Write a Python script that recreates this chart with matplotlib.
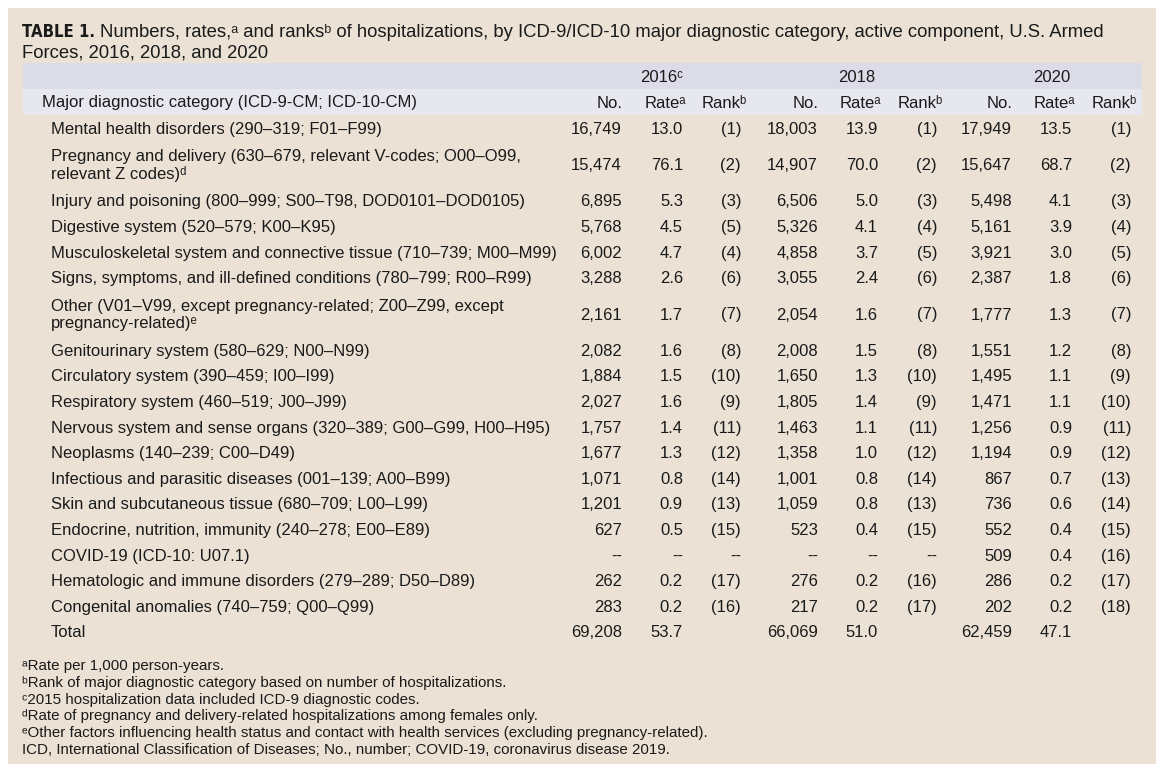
import matplotlib.pyplot as plt
import matplotlib.patches as mpatches
from matplotlib import font_manager
from matplotlib.font_manager import FontProperties

plt.rcParams['font.family'] = ['Liberation Sans', 'DejaVu Sans']

# table data
categories = [
    'Mental health disorders (290–319; F01–F99)',
    'Pregnancy and delivery (630–679, relevant V-codes; O00–O99,\nrelevant Z codes)ᵈ',
    'Injury and poisoning (800–999; S00–T98, DOD0101–DOD0105)',
    'Digestive system (520–579; K00–K95)',
    'Musculoskeletal system and connective tissue (710–739; M00–M99)',
    'Signs, symptoms, and ill-defined conditions (780–799; R00–R99)',
    'Other (V01–V99, except pregnancy-related; Z00–Z99, except\npregnancy-related)ᵉ',
    'Genitourinary system (580–629; N00–N99)',
    'Circulatory system (390–459; I00–I99)',
    'Respiratory system (460–519; J00–J99)',
    'Nervous system and sense organs (320–389; G00–G99, H00–H95)',
    'Neoplasms (140–239; C00–D49)',
    'Infectious and parasitic diseases (001–139; A00–B99)',
    'Skin and subcutaneous tissue (680–709; L00–L99)',
    'Endocrine, nutrition, immunity (240–278; E00–E89)',
    'COVID-19 (ICD-10: U07.1)',
    'Hematologic and immune disorders (279–289; D50–D89)',
    'Congenital anomalies (740–759; Q00–Q99)',
]

counts_2016 = [16749, 15474, 6895, 5768, 6002, 3288, 2161, 2082, 1884, 2027, 1757, 1677, 1071, 1201, 627, None, 262, 283]
rates_2016 = [13.0, 76.1, 5.3, 4.5, 4.7, 2.6, 1.7, 1.6, 1.5, 1.6, 1.4, 1.3, 0.8, 0.9, 0.5, None, 0.2, 0.2]
ranks_2016 = [1, 2, 3, 5, 4, 6, 7, 8, 10, 9, 11, 12, 14, 13, 15, None, 17, 16]

counts_2018 = [18003, 14907, 6506, 5326, 4858, 3055, 2054, 2008, 1650, 1805, 1463, 1358, 1001, 1059, 523, None, 276, 217]
rates_2018 = [13.9, 70.0, 5.0, 4.1, 3.7, 2.4, 1.6, 1.5, 1.3, 1.4, 1.1, 1.0, 0.8, 0.8, 0.4, None, 0.2, 0.2]
ranks_2018 = [1, 2, 3, 4, 5, 6, 7, 8, 10, 9, 11, 12, 14, 13, 15, None, 16, 17]

counts_2020 = [17949, 15647, 5498, 5161, 3921, 2387, 1777, 1551, 1495, 1471, 1256, 1194, 867, 736, 552, 509, 286, 202]
rates_2020 = [13.5, 68.7, 4.1, 3.9, 3.0, 1.8, 1.3, 1.2, 1.1, 1.1, 0.9, 0.9, 0.7, 0.6, 0.4, 0.4, 0.2, 0.2]
ranks_2020 = [1, 2, 3, 4, 5, 6, 7, 8, 9, 10, 11, 12, 13, 14, 15, 16, 17, 18]

total_counts = [69208, 66069, 62459]
total_rates = [53.7, 51.0, 47.1]

year_labels = ['2016ᶜ', '2018', '2020']
col_headers = ['No.', 'Rateᵃ', 'Rankᵇ']

footnotes = [
    'ᵃRate per 1,000 person-years.',
    'ᵇRank of major diagnostic category based on number of hospitalizations.',
    'ᶜ2015 hospitalization data included ICD-9 diagnostic codes.',
    'ᵈRate of pregnancy and delivery-related hospitalizations among females only.',
    'ᵉOther factors influencing health status and contact with health services (excluding pregnancy-related).',
    'ICD, International Classification of Diseases; No., number; COVID-19, coronavirus disease 2019.',
]

# colours / layout
BEIGE = '#ebe2d5'
LAV = '#dcdce9'
LAV_LIGHT = '#e7e7f0'
TXT = '#1a1a1a'
FS = 12

fig = plt.figure(figsize=(11.65, 7.7), dpi=100)
ax = fig.add_axes([0, 0, 1, 1])
ax.set_xlim(0, 1165)
ax.set_ylim(770, 0)
ax.axis('off')

ax.add_patch(mpatches.Rectangle((8, 8), 1148, 756, color=BEIGE, lw=0))
ax.add_patch(mpatches.Rectangle((23, 63), 1119, 26, color=LAV, lw=0))
ax.add_patch(mpatches.Rectangle((23, 89), 1119, 26, color=LAV_LIGHT, lw=0))

# title -- look for a condensed bold face for "TABLE 1."
cond = [f for f in font_manager.fontManager.ttflist
        if ('Narrow' in f.name or 'Condensed' in f.name or f.stretch in ('condensed', 'semi-condensed'))
        and f.weight in ('bold', 700, 'heavy')]
if cond:
    tprop = FontProperties(fname=cond[0].fname, size=12)
else:
    tprop = FontProperties(family='Liberation Sans', weight='bold', size=12)
t1 = ax.text(22, 37, 'TABLE 1.', fontproperties=tprop, color=TXT, va='baseline')
fig.canvas.draw()
bb = t1.get_window_extent()
ax.text(bb.x1 + 5, 37, 'Numbers, rates,ᵃ and ranksᵇ of hospitalizations, by ICD-9/ICD-10 major '
        'diagnostic category, active component, U.S. Armed', fontsize=13.3, color=TXT, va='baseline')
ax.text(22, 57, 'Forces, 2016, 2018, and 2020', fontsize=13.3, color=TXT, va='baseline')

# column positions (right edges)
no_x = [622, 818, 1012]
rate_x = [683, 878, 1072]
rank_x = [741, 937, 1131]
year_x = [662, 857, 1052]

for yl, yx in zip(year_labels, year_x):
    ax.text(yx, 77, yl, fontsize=FS, color=TXT, ha='center', va='center')

ax.text(42, 103, 'Major diagnostic category (ICD-9-CM; ICD-10-CM)', fontsize=FS, color=TXT, va='center')
for i in range(3):
    ax.text(no_x[i], 103, col_headers[0], fontsize=FS, color=TXT, ha='right', va='center')
    ax.text(rate_x[i] + 3, 103, col_headers[1], fontsize=FS, color=TXT, ha='right', va='center')
    ax.text(rank_x[i] + 6, 103, col_headers[2], fontsize=FS, color=TXT, ha='right', va='center')

years_data = [
    (counts_2016, rates_2016, ranks_2016),
    (counts_2018, rates_2018, ranks_2018),
    (counts_2020, rates_2020, ranks_2020),
]

top = 116.5
for r, cat in enumerate(categories):
    h = 47 if '\n' in cat else 25.6
    yc = top + h / 2
    ax.text(51, yc, cat, fontsize=FS, color=TXT, va='center', linespacing=1.1)
    for i, (cnt, rt, rk) in enumerate(years_data):
        c = '--' if cnt[r] is None else f'{cnt[r]:,}'
        v = '--' if rt[r] is None else f'{rt[r]:.1f}'
        k = '--' if rk[r] is None else f'({rk[r]})'
        ax.text(no_x[i], yc, c, fontsize=FS, color=TXT, ha='right', va='center')
        ax.text(rate_x[i], yc, v, fontsize=FS, color=TXT, ha='right', va='center')
        ax.text(rank_x[i], yc, k, fontsize=FS, color=TXT, ha='right', va='center')
    top += h

yc = top + 12.8
ax.text(51, yc, 'Total', fontsize=FS, color=TXT, va='center')
for i in range(3):
    ax.text(no_x[i], yc, f'{total_counts[i]:,}', fontsize=FS, color=TXT, ha='right', va='center')
    ax.text(rate_x[i], yc, f'{total_rates[i]:.1f}', fontsize=FS, color=TXT, ha='right', va='center')

for j, fn in enumerate(footnotes):
    ax.text(22, 666 + j * 16.8, fn, fontsize=10.9, color=TXT, va='center')

fig.savefig('out.png', dpi=100, facecolor='white')
